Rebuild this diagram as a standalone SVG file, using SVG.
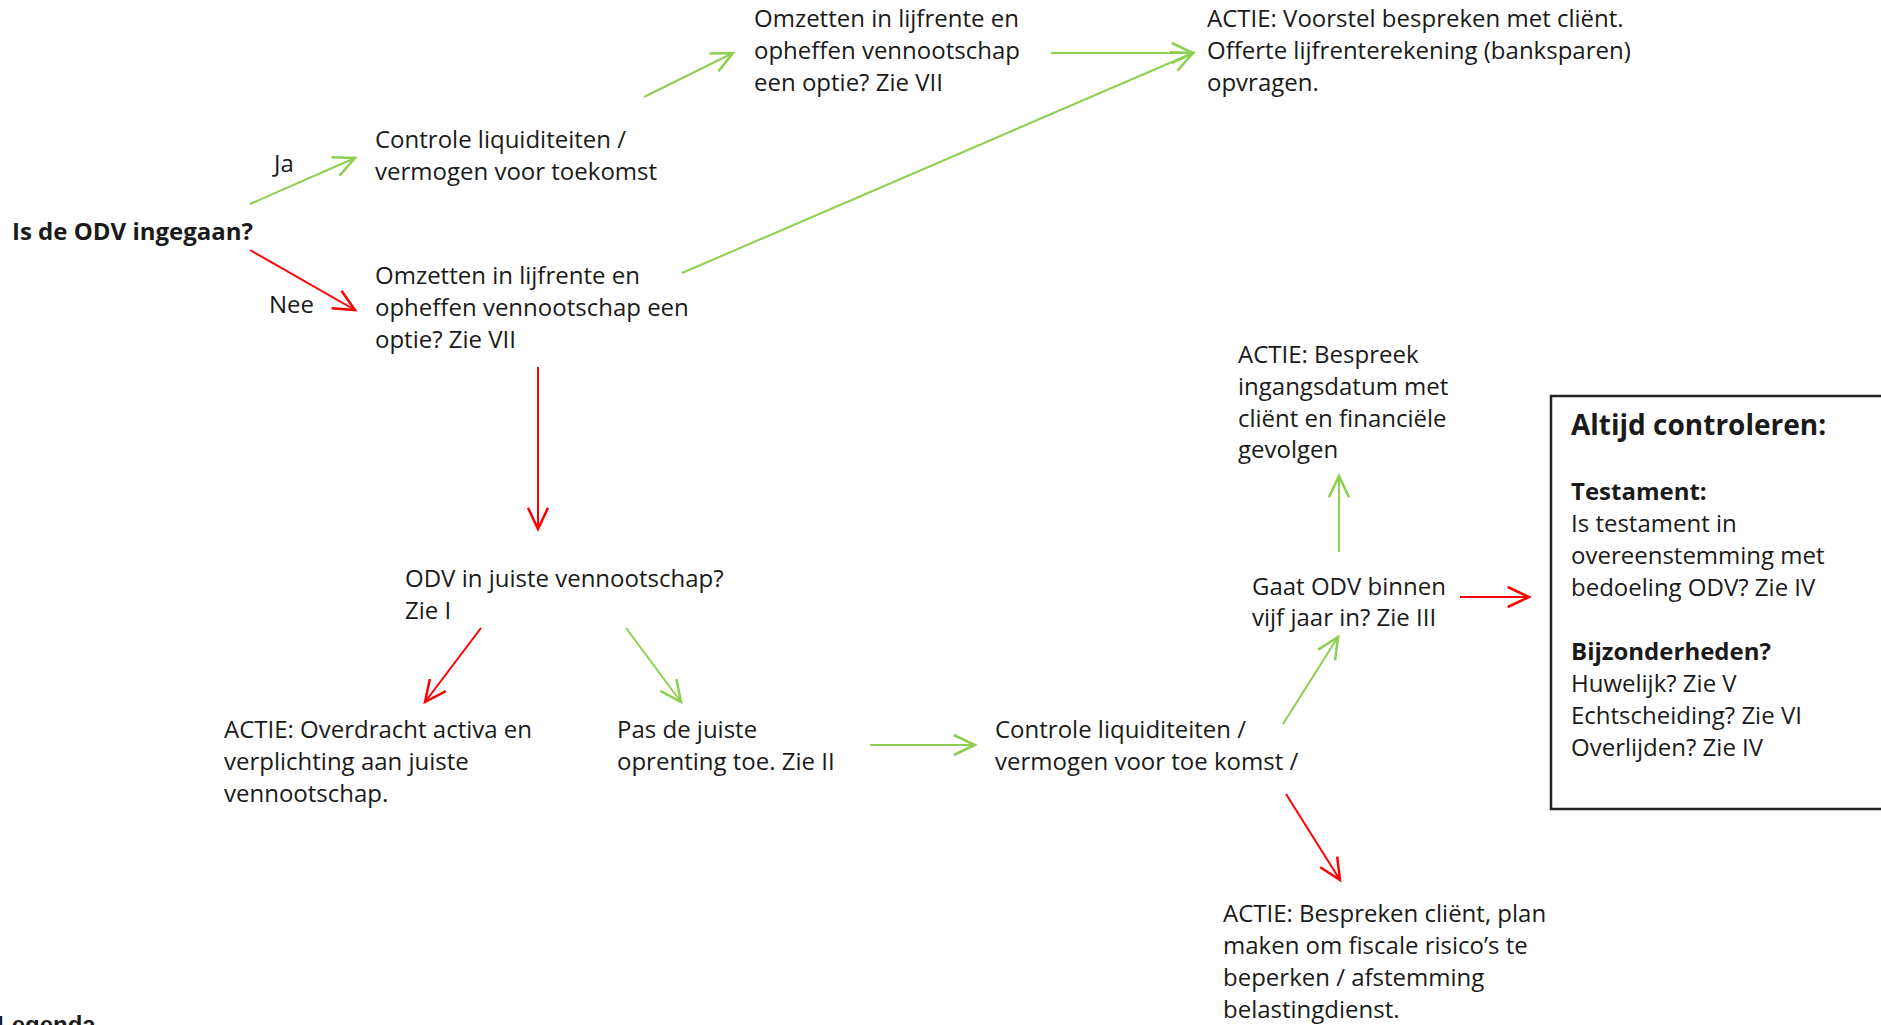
<svg xmlns="http://www.w3.org/2000/svg" width="1881" height="1025" viewBox="0 0 1881 1025">
<style>
text{font-family:"Open Sans","Noto Sans","Liberation Sans",sans-serif;font-size:24px;fill:#1a1a1a}
.b{font-weight:bold}
.t{font-weight:bold;font-size:28px}
.lg{font-family:"Liberation Sans",Arial,sans-serif;font-size:24px;font-weight:bold}
.g{stroke:#8dcf4f;stroke-width:2;fill:none}
.r{stroke:#ff0000;stroke-width:2;fill:none}
</style>
<defs>
<marker id="ag" markerUnits="userSpaceOnUse" markerWidth="30" markerHeight="30" viewBox="-20 -12 24 24" refX="0" refY="0" orient="auto">
<path d="M-17,-8 L0,0 L-17,8" fill="none" stroke="#8dcf4f" stroke-width="2"/>
</marker>
<marker id="ar" markerUnits="userSpaceOnUse" markerWidth="30" markerHeight="30" viewBox="-20 -12 24 24" refX="0" refY="0" orient="auto">
<path d="M-17,-8 L0,0 L-17,8" fill="none" stroke="#ff0000" stroke-width="2"/>
</marker>
</defs>
<rect width="1881" height="1025" fill="#ffffff"/>
<g id="connectors">
<line class="g" x1="250" y1="204" x2="355" y2="158" marker-end="url(#ag)"/>
<line class="r" x1="250" y1="250" x2="355" y2="310" marker-end="url(#ar)"/>
<line class="g" x1="644" y1="97" x2="733" y2="53" marker-end="url(#ag)"/>
<line class="g" x1="1051" y1="53" x2="1193" y2="53" marker-end="url(#ag)"/>
<line class="g" x1="682" y1="273" x2="1193" y2="53" marker-end="url(#ag)"/>
<line class="r" x1="538" y1="367" x2="538" y2="529" marker-end="url(#ar)"/>
<line class="r" x1="481" y1="628" x2="425" y2="702" marker-end="url(#ar)"/>
<line class="g" x1="626" y1="628" x2="681" y2="702" marker-end="url(#ag)"/>
<line class="g" x1="870" y1="745" x2="975" y2="745" marker-end="url(#ag)"/>
<line class="g" x1="1283" y1="724" x2="1338" y2="637" marker-end="url(#ag)"/>
<line class="g" x1="1339" y1="552" x2="1339" y2="476" marker-end="url(#ag)"/>
<line class="r" x1="1460" y1="597" x2="1529" y2="597" marker-end="url(#ar)"/>
<line class="r" x1="1286" y1="794" x2="1340" y2="880" marker-end="url(#ar)"/>
</g>
<g id="start"><text class="b" x="12" y="240">Is de ODV ingegaan?</text></g>
<g id="label-ja"><text x="274" y="172">Ja</text></g>
<g id="label-nee"><text x="269" y="313">Nee</text></g>
<g id="controle1"><text x="375" y="148">Controle liquiditeiten /</text><text x="375" y="180">vermogen voor toekomst</text></g>
<g id="omzetten1"><text x="375" y="284">Omzetten in lijfrente en</text><text x="375" y="316">opheffen vennootschap een</text><text x="375" y="348">optie? Zie VII</text></g>
<g id="omzetten2"><text x="754" y="27">Omzetten in lijfrente en</text><text x="754" y="59">opheffen vennootschap</text><text x="754" y="91">een optie? Zie VII</text></g>
<g id="actie-voorstel"><text x="1207" y="27">ACTIE: Voorstel bespreken met cliënt.</text><text x="1207" y="59">Offerte lijfrenterekening (banksparen)</text><text x="1207" y="91">opvragen.</text></g>
<g id="odv-juiste"><text x="405" y="587">ODV in juiste vennootschap?</text><text x="405" y="619">Zie I</text></g>
<g id="actie-overdracht"><text x="224" y="738">ACTIE: Overdracht activa en</text><text x="224" y="770">verplichting aan juiste</text><text x="224" y="802">vennootschap.</text></g>
<g id="pas-oprenting"><text x="617" y="738">Pas de juiste</text><text x="617" y="770">oprenting toe. Zie II</text></g>
<g id="controle2"><text x="995" y="738">Controle liquiditeiten /</text><text x="995" y="770">vermogen voor toe komst /</text></g>
<g id="gaat-odv"><text x="1252" y="595">Gaat ODV binnen</text><text x="1252" y="626">vijf jaar in? Zie III</text></g>
<g id="actie-ingangsdatum"><text x="1238" y="363">ACTIE: Bespreek</text><text x="1238" y="395">ingangsdatum met</text><text x="1238" y="427">cliënt en financiële</text><text x="1238" y="458">gevolgen</text></g>
<g id="actie-bespreken"><text x="1223" y="922">ACTIE: Bespreken cliënt, plan</text><text x="1223" y="954">maken om fiscale risico’s te</text><text x="1223" y="986">beperken / afstemming</text><text x="1223" y="1018">belastingdienst.</text></g>
<g id="altijd-controleren">
<rect x="1551" y="396" width="345" height="413" fill="none" stroke="#222222" stroke-width="2.5"/>
<text class="t" x="1571" y="435">Altijd controleren:</text>
<text class="b" x="1571" y="500">Testament:</text>
<text x="1571" y="532">Is testament in</text>
<text x="1571" y="564">overeenstemming met</text>
<text x="1571" y="596">bedoeling ODV? Zie IV</text>
<text class="b" x="1571" y="660">Bijzonderheden?</text>
<text x="1571" y="692">Huwelijk? Zie V</text>
<text x="1571" y="724">Echtscheiding? Zie VI</text>
<text x="1571" y="756">Overlijden? Zie IV</text>
</g>
<g id="legenda"><text class="lg" x="-3" y="1033">Legenda</text></g>
</svg>
